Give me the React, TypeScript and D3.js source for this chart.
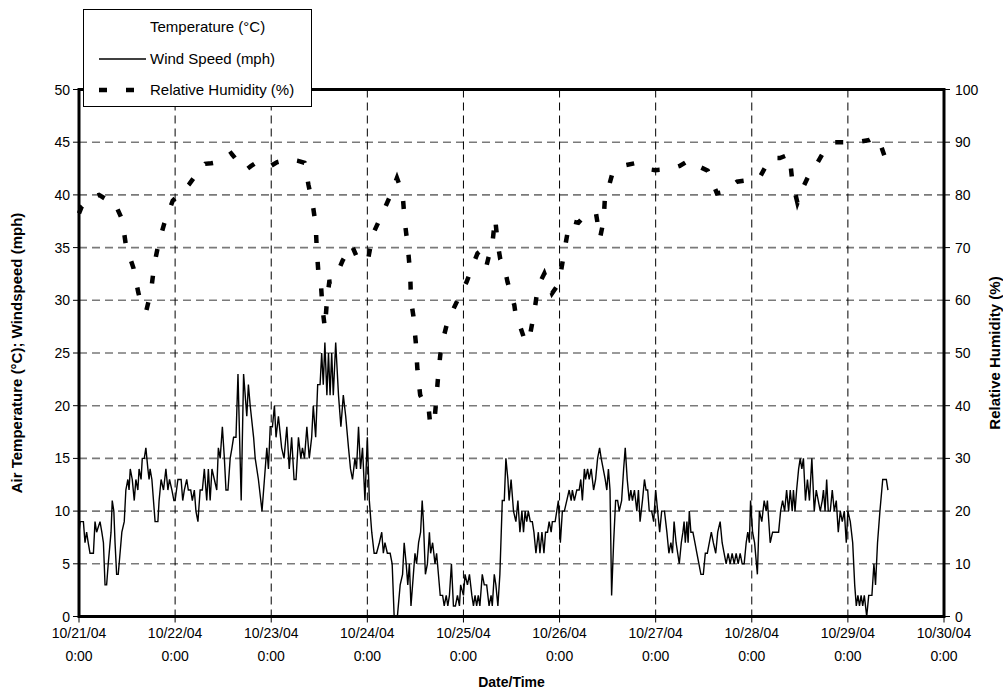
import React from "react";
import * as d3 from "d3";

// Page / plot frame
const width = 1003;
const height = 692;
const plot = { left: 79, right: 944, top: 89.5, bottom: 616.5 };

const startDate = new Date(2004, 9, 21);
const endDate = new Date(2004, 9, 30);

const leftTicks = [0, 5, 10, 15, 20, 25, 30, 35, 40, 45, 50];
const rightTicks = [0, 10, 20, 30, 40, 50, 60, 70, 80, 90, 100];
const legendLabels = ["Temperature (°C)", "Wind Speed (mph)", "Relative Humidity (%)"];

// [hours since 10/21/04 0:00, mph]
const windSpeed: [number, number][] = [
  [0, 8], [0.3, 9], [1.1, 9], [1.5, 7], [1.9, 8], [2.3, 7], [2.75, 6], [3.6, 6], [4, 9], [4.4, 8],
  [5.25, 9], [5.7, 8], [6.1, 7], [6.5, 3], [6.9, 3], [7.3, 5], [8, 8], [8.3, 11], [8.7, 10], [9, 7],
  [9.4, 4], [9.8, 4], [10.7, 8], [11.3, 9], [11.7, 12], [12.2, 13], [12.5, 12], [12.8, 14], [13.3, 13], [13.8, 11],
  [14.2, 13], [14.7, 12], [15, 14], [15.5, 13], [15.8, 15], [16.3, 15], [16.7, 16], [17.2, 14], [17.5, 13], [17.75, 14],
  [18.2, 13], [19, 9], [19.7, 9], [20, 11], [20.5, 13], [21.1, 12], [21.7, 14], [22.2, 12], [22.6, 13], [23.2, 12],
  [23.7, 11], [24, 11], [24.7, 13], [25.5, 13], [25.9, 11], [26.3, 12], [26.9, 13], [27.3, 12], [27.9, 12], [28.3, 11],
  [28.8, 12], [29.2, 10], [29.7, 9], [30.25, 12], [30.8, 12], [31.3, 14], [31.9, 11], [32.3, 14], [32.75, 11], [33.2, 14],
  [33.8, 13], [34.4, 12], [34.8, 16], [35.25, 15], [35.8, 18], [36.3, 15], [36.7, 12], [37.2, 12], [37.75, 15], [38.2, 16],
  [38.6, 17], [39.2, 17], [39.7, 23], [40.5, 11], [41.1, 23], [41.9, 19], [42.3, 22], [42.75, 20], [43.6, 17], [44, 15],
  [44.8, 13], [45.7, 10], [46.3, 13], [46.9, 16], [47.3, 14], [47.75, 18], [48.3, 18], [48.8, 20], [49.2, 17], [49.8, 19],
  [50.6, 16], [51.2, 15], [51.9, 18], [52.5, 14], [53.1, 17], [53.7, 13], [54.2, 13], [54.8, 17], [55.4, 15], [55.8, 16],
  [56.3, 15], [56.9, 18], [57.5, 15], [58.1, 17], [58.5, 20], [59.1, 17], [59.6, 22], [60.2, 22], [60.6, 25], [61, 22],
  [61.4, 26], [61.9, 21], [62.3, 25], [62.7, 21], [63.1, 25], [63.5, 21], [64.1, 26], [64.8, 21], [65.4, 18], [66, 21],
  [66.6, 19], [67.3, 16], [67.8, 14], [68.3, 13], [68.9, 15], [69.3, 14], [69.8, 18], [70.3, 14], [70.8, 16], [71.4, 11],
  [72, 17], [72.5, 11], [73.1, 8], [73.7, 6], [74.3, 6], [75, 7], [75.6, 8], [76, 6], [76.4, 7], [77, 6],
  [77.7, 6], [78.2, 5], [78.7, 0], [79.5, 0], [80.2, 3], [80.8, 4], [81.2, 7], [81.7, 5], [82.1, 3], [82.5, 5],
  [82.9, 1], [83.5, 4], [83.9, 6], [84.3, 5], [84.8, 7], [85.3, 8], [85.7, 11], [86, 9], [86.5, 4], [87, 5],
  [87.5, 8], [87.8, 6], [88.3, 7], [88.9, 5], [89.3, 6], [90.2, 2], [90.8, 2], [91.2, 1], [91.7, 2], [92.1, 1],
  [92.5, 2], [93, 5], [93.5, 1], [94, 1], [94.5, 2], [95, 1], [95.3, 3], [96, 2], [96.4, 4], [97, 3],
  [97.5, 4], [98.1, 2], [98.5, 1], [98.9, 2], [99.3, 1], [99.7, 2], [100.1, 1], [100.7, 4], [101.2, 3], [101.8, 3],
  [102.4, 1], [102.9, 2], [103.2, 1], [103.7, 4], [104.1, 3], [104.6, 1], [105.1, 4], [105.7, 11], [106.2, 11], [106.6, 15],
  [107.1, 13], [107.4, 11], [107.9, 13], [108.5, 10], [109.1, 9], [109.6, 11], [110.1, 8], [110.6, 10], [111, 8], [111.4, 10],
  [111.8, 9], [112.2, 10], [112.7, 9], [113.2, 9], [113.6, 8], [114.1, 6], [114.7, 8], [115.1, 6], [115.6, 8], [116.1, 6],
  [116.5, 8], [117, 8], [117.4, 9], [117.9, 8], [118.2, 9], [118.9, 9], [119.3, 10], [119.7, 11], [120.2, 7], [120.7, 10],
  [121.2, 10], [121.8, 11], [122.4, 12], [122.9, 11], [123.2, 12], [123.7, 11], [124.3, 12], [124.9, 12], [125.3, 13], [125.7, 11],
  [126.2, 14], [126.5, 13], [127, 14], [127.4, 13], [127.9, 14], [128.5, 12], [129, 13], [129.5, 15], [130, 16], [130.4, 15],
  [130.9, 14], [131.4, 13], [131.8, 12], [132.2, 14], [132.6, 12], [133, 2], [133.5, 7], [134, 11], [134.5, 11], [134.9, 10],
  [135.5, 11], [136, 14], [136.4, 16], [136.9, 13], [137.4, 11], [137.8, 12], [138.2, 11], [138.7, 12], [139.3, 10], [139.7, 12],
  [140.1, 9], [140.7, 11], [141.2, 13], [141.6, 12], [142, 12], [142.4, 10], [143, 10], [143.5, 9], [144, 12], [144.5, 10],
  [145, 8], [145.5, 10], [146.2, 10], [146.8, 8], [147.3, 6], [147.8, 7], [148.2, 6], [148.6, 9], [149.1, 7], [149.5, 6],
  [149.9, 5], [150.4, 7], [150.8, 8], [151.1, 9], [151.4, 7], [151.8, 9], [152.1, 7], [152.4, 10], [152.8, 8], [153.3, 8],
  [153.8, 7], [154.3, 6], [154.8, 5], [155.3, 4], [155.9, 4], [156.4, 6], [156.9, 6], [157.4, 7], [157.9, 8], [158.4, 7],
  [159, 6], [159.5, 8], [160.1, 9], [160.6, 7], [161.1, 6], [161.6, 5], [162.1, 6], [162.6, 5], [163.1, 6], [163.6, 5],
  [164.1, 6], [164.6, 5], [165.1, 6], [165.6, 5], [166.1, 5], [166.6, 7], [167, 8], [167.4, 7], [167.7, 11], [168.2, 8],
  [168.7, 7], [169.4, 4], [169.9, 10], [170.5, 9], [171.1, 11], [171.6, 10], [171.9, 11], [172.6, 7], [173.2, 8], [174.7, 8],
  [175.2, 10], [175.7, 11], [176.2, 10], [176.7, 12], [177.2, 10], [177.6, 12], [178.1, 10], [178.4, 12], [178.8, 10], [179.2, 12],
  [179.7, 14], [180.1, 15], [180.5, 14], [180.9, 15], [181.4, 11], [181.9, 13], [182.4, 11], [183, 15], [183.6, 10], [184.1, 12],
  [184.6, 11], [185.1, 10], [185.6, 11], [185.9, 12], [186.3, 10], [186.7, 13], [187.1, 10], [187.6, 10], [188.1, 12], [188.6, 10],
  [189.1, 11], [189.6, 8], [190.1, 10], [190.6, 9], [191.1, 10], [191.6, 7], [192, 10], [192.6, 9], [193.2, 7], [193.7, 3],
  [194.1, 1], [194.5, 2], [194.9, 1], [195.3, 2], [195.7, 1], [196.1, 2], [196.7, 0], [197.2, 2], [198, 2], [198.5, 5],
  [198.9, 3], [199.4, 7], [200, 10], [200.7, 13], [201.6, 13], [202, 12],
];

// [hours since 10/21/04 0:00, % relative humidity]
const humidity: [number, number][] = [
  [0, 76.5], [0.7, 77.8], [3.3, 79.6], [5, 80], [6.5, 79.3], [8.3, 79.1], [9.5, 77.5], [10.8, 75.3], [11.7, 70.5], [13.6, 66.1],
  [14.8, 61.5], [15.8, 58.5], [16.8, 58], [18, 61.8], [18.8, 66.8], [19.8, 70.5], [21.3, 74.6], [23.4, 78.9], [25.8, 80.6], [27.5, 82],
  [29.1, 83.7], [31.5, 85.9], [33, 86], [35.2, 86.3], [38, 87.9], [39.5, 86.5], [40.6, 85.5], [41.6, 84.7], [43, 85.5], [44.4, 86.2],
  [46, 85.8], [47.5, 85.3], [49.4, 86.2], [52.3, 86.8], [54.5, 86.5], [56.3, 86.1], [57.3, 81.9], [58.5, 77.5], [59.1, 74.3], [59.4, 69.3],
  [59.9, 64], [60.4, 63.2], [60.8, 58.5], [61.4, 54.7], [61.9, 59.8], [62.5, 63.5], [63.7, 63.6], [65.8, 67.5], [68.1, 70.5], [69.5, 68],
  [71, 67.5], [72.1, 67.4], [73.3, 72.4], [75.6, 76.2], [77.7, 79.8], [79.4, 83.2], [80.8, 80.3], [81.3, 75.3], [82.1, 70.2], [82.7, 65.1],
  [82.9, 60.1], [83.5, 57], [84.1, 52], [84.5, 46.9], [85.2, 42], [86.3, 40.4], [87.2, 40.4], [87.7, 36.5], [88.7, 36.5], [89.2, 41],
  [89.7, 45.8], [90.4, 51], [91.9, 55.6], [93.6, 58.5], [95.2, 61.1], [96.8, 63.5], [98.1, 66.2], [99.5, 68.9], [100.5, 69.5], [101.8, 66.7],
  [103.3, 71.3], [103.9, 75.6], [104.6, 70.5], [105.2, 67.8], [106.2, 66.5], [107, 63.5], [108.7, 59.1], [109.3, 55.9], [110.3, 54.7], [111.5, 52],
  [112.5, 52.9], [113.7, 57.8], [114.6, 62.6], [116.2, 65.1], [117.2, 63], [118.1, 61.3], [119.2, 62.5], [120.2, 64.8], [121.4, 70.2], [122.5, 75.1],
  [124.7, 74.7], [126.8, 76.5], [129.1, 76.5], [130.1, 71.8], [131, 75.1], [131.4, 80.4], [132.2, 81.3], [133.3, 84.4], [135.6, 85.5], [138.7, 86],
  [141, 85], [143.9, 84.7], [146, 84.8], [148.4, 85.1], [150, 85.5], [152.4, 86.6], [154.5, 85.5], [157, 84.6], [159.3, 80.3], [161.2, 80.6],
  [162.5, 81.5], [164.3, 82.5], [167.2, 82.8], [169.9, 83.2], [172.6, 87], [175, 87], [177.4, 87.7], [178.1, 82.7], [179.4, 78.5], [180.6, 81.1],
  [182.4, 84], [184.4, 86.1], [186.2, 88.5], [188.5, 90], [191.1, 90], [194, 90], [197.4, 90.4], [199, 91], [200, 89.9], [201.9, 85.7],
];

const font = "'Liberation Sans', Arial, sans-serif";
const hoursToDate = (h: number) => new Date(startDate.getTime() + h * 3600 * 1000);

const App = () => {
  const x = d3.scaleTime().domain([startDate, endDate]).range([plot.left, plot.right]);
  const yLeft = d3.scaleLinear().domain([0, 50]).range([plot.bottom, plot.top]);
  const yRight = d3.scaleLinear().domain([0, 100]).range([plot.bottom, plot.top]);
  const days = d3.timeDay.range(startDate, d3.timeDay.offset(endDate, 1));
  const fmtDate = d3.timeFormat("%m/%d/%y");
  const fmtTime = d3.timeFormat("%-H:%M");

  const windLine = d3
    .line<[number, number]>()
    .x((d) => x(hoursToDate(d[0])))
    .y((d) => yLeft(d[1]));
  const humLine = d3
    .line<[number, number]>()
    .x((d) => x(hoursToDate(d[0])))
    .y((d) => yRight(d[1]));

  const midY = (plot.top + plot.bottom) / 2;

  return (
    <svg
      width={width}
      height={height}
      style={{ position: "absolute", left: 0, top: 0, background: "#fff" }}
      fontFamily={font}
    >
      <rect x={0} y={0} width={width} height={height} fill="#fff" />

      {/* horizontal gridlines */}
      {leftTicks.slice(1, -1).map((t) => (
        <line
          key={"h" + t}
          x1={plot.left}
          x2={plot.right}
          y1={yLeft(t)}
          y2={yLeft(t)}
          stroke="#7a7a7a"
          strokeWidth={1.6}
          strokeDasharray="8,5"
        />
      ))}
      {/* vertical gridlines */}
      {days.slice(1, -1).map((d) => (
        <line
          key={"v" + d.getTime()}
          x1={x(d)}
          x2={x(d)}
          y1={plot.top}
          y2={plot.bottom}
          stroke="#000"
          strokeWidth={1}
          strokeDasharray="8,5"
        />
      ))}

      {/* series */}
      <path d={windLine(windSpeed) || ""} fill="none" stroke="#000" strokeWidth={1.4} strokeLinejoin="miter" />
      <path d={humLine(humidity) || ""} fill="none" stroke="#000" strokeWidth={4.5} strokeDasharray="8,19" />

      {/* frame */}
      <rect
        x={plot.left}
        y={plot.top}
        width={plot.right - plot.left}
        height={plot.bottom - plot.top}
        fill="none"
        stroke="#000"
        strokeWidth={3}
      />

      {/* left axis */}
      {leftTicks.map((t) => (
        <g key={"l" + t}>
          <line x1={plot.left - 6} x2={plot.left} y1={yLeft(t)} y2={yLeft(t)} stroke="#000" strokeWidth={1} />
          <text x={plot.left - 9} y={yLeft(t) + 5} textAnchor="end" fontSize={14}>
            {t}
          </text>
        </g>
      ))}
      {/* right axis */}
      {rightTicks.map((t) => (
        <g key={"r" + t}>
          <line x1={plot.right} x2={plot.right + 6} y1={yRight(t)} y2={yRight(t)} stroke="#000" strokeWidth={1} />
          <text x={plot.right + 11} y={yRight(t) + 5} textAnchor="start" fontSize={14}>
            {t}
          </text>
        </g>
      ))}
      {/* bottom axis */}
      {days.map((d) => (
        <g key={"b" + d.getTime()}>
          <line x1={x(d)} x2={x(d)} y1={plot.bottom} y2={plot.bottom + 6} stroke="#000" strokeWidth={1} />
          <text x={x(d)} y={638} textAnchor="middle" fontSize={14}>
            {fmtDate(d)}
          </text>
          <text x={x(d)} y={661} textAnchor="middle" fontSize={14}>
            {fmtTime(d)}
          </text>
        </g>
      ))}

      {/* axis titles */}
      <text x={(plot.left + plot.right) / 2} y={687} textAnchor="middle" fontSize={14} fontWeight="bold">
        Date/Time
      </text>
      <text
        transform={`translate(22, ${midY}) rotate(-90)`}
        textAnchor="middle"
        fontSize={15}
        fontWeight="bold"
      >
        Air Temperature (°C); Windspeed (mph)
      </text>
      <text
        transform={`translate(1000, ${midY}) rotate(-90)`}
        textAnchor="middle"
        fontSize={15}
        fontWeight="bold"
      >
        Relative Humidity (%)
      </text>

      {/* legend */}
      <g>
        <rect x={83.5} y={9.5} width={228} height={97} fill="#fff" stroke="#000" strokeWidth={1} />
        <text x={150} y={32} fontSize={15}>
          {legendLabels[0]}
        </text>
        <line x1={99} x2={146} y1={59} y2={59} stroke="#000" strokeWidth={1.4} />
        <text x={150} y={64} fontSize={15}>
          {legendLabels[1]}
        </text>
        <line x1={99} x2={146} y1={90} y2={90} stroke="#000" strokeWidth={4.5} strokeDasharray="8,19" />
        <text x={150} y={95} fontSize={15}>
          {legendLabels[2]}
        </text>
      </g>
    </svg>
  );
};

export default App;
